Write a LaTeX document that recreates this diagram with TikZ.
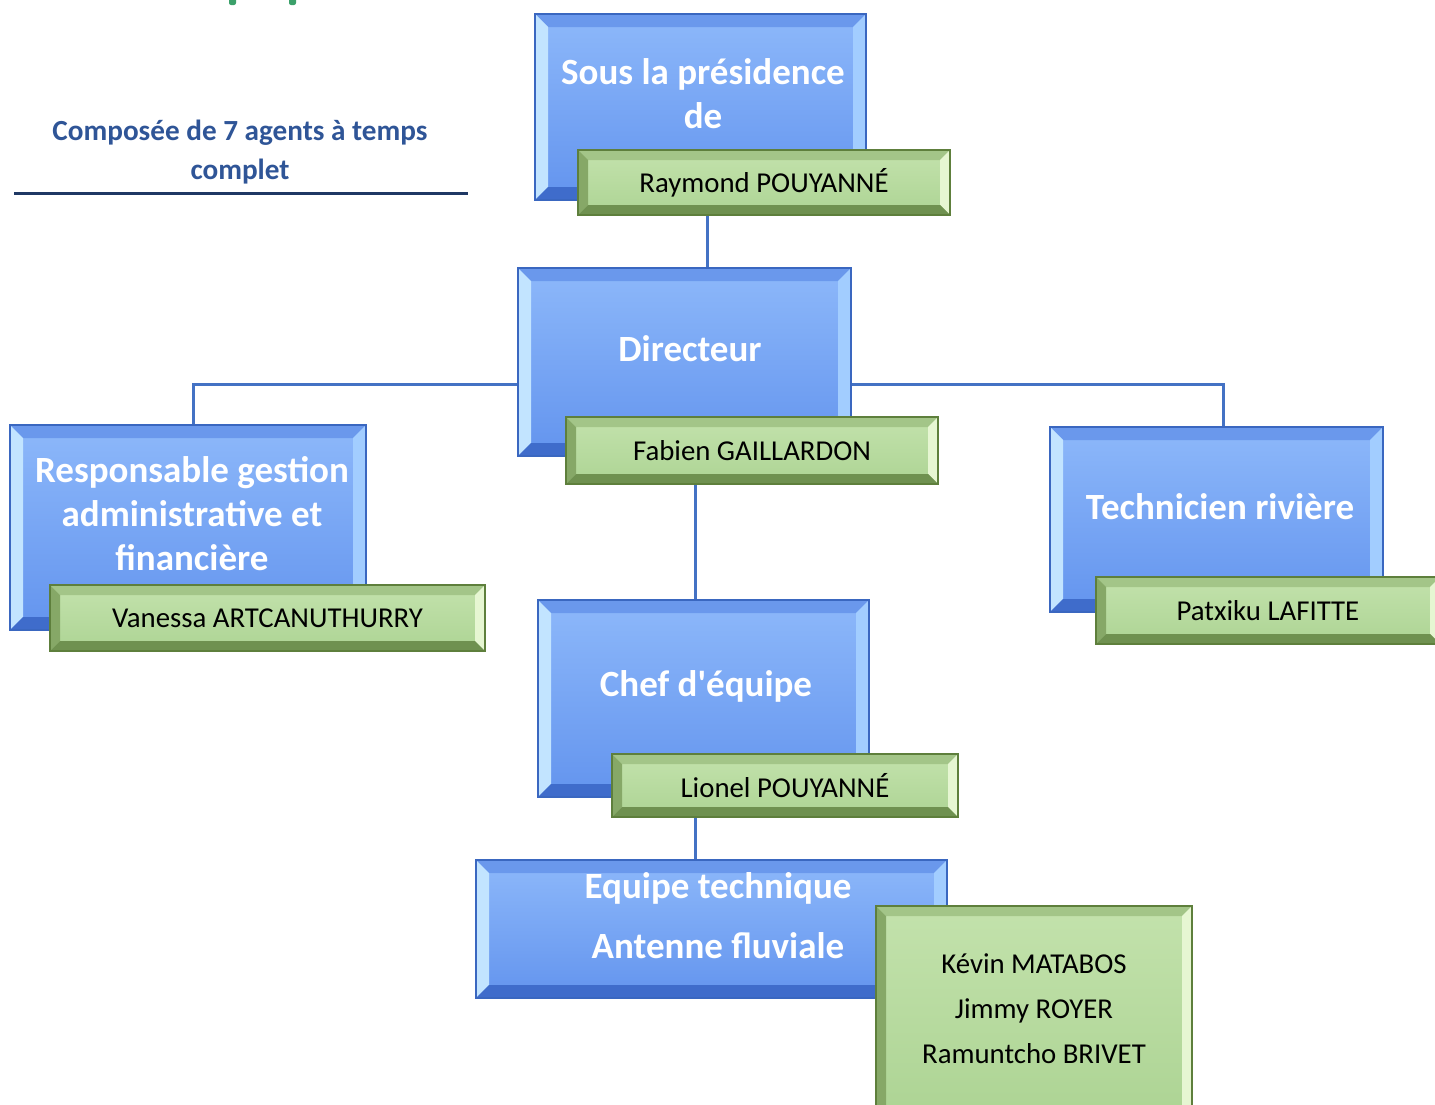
\documentclass[tikz,border=0pt]{standalone}
\usepackage{fontspec}
\setmainfont{Carlito}
\usepackage{tikz}
\usetikzlibrary{positioning}

\definecolor{blueedge}{HTML}{3A67C0}
\definecolor{bluetop}{HTML}{8DB8FA}
\definecolor{bluebot}{HTML}{6394EE}
\definecolor{bluetopbev}{HTML}{6A98EC}
\definecolor{blueleftbev}{HTML}{C2E4FF}
\definecolor{bluerightbev}{HTML}{A2CDFF}
\definecolor{bluebotbev}{HTML}{3F6CCB}
\definecolor{greenedge}{HTML}{5E7F3C}
\definecolor{greentop}{HTML}{C3E2AC}
\definecolor{greenbot}{HTML}{ADD494}
\definecolor{greentopbev}{HTML}{A3C588}
\definecolor{greenleftbev}{HTML}{86A867}
\definecolor{greenrightbev}{HTML}{E6F6D2}
\definecolor{greenbotbev}{HTML}{6F9150}
\definecolor{linkblue}{HTML}{4472C4}
\definecolor{headblue}{HTML}{2F5597}
\definecolor{rulenavy}{HTML}{1F3864}
\definecolor{fraggreen}{HTML}{3BA06A}

\begin{document}
\begin{tikzpicture}[x=0.5pt,y=-0.5pt,
    bevel/.style n args={5}{path picture={
        \fill[#2] (path picture bounding box.north west) -- (path picture bounding box.north east)
            -- ([shift={(-#1,-#1)}]path picture bounding box.north east) -- ([shift={(#1,-#1)}]path picture bounding box.north west) -- cycle;
        \fill[#3] (path picture bounding box.north west) -- ([shift={(#1,-#1)}]path picture bounding box.north west)
            -- ([shift={(#1,#1)}]path picture bounding box.south west) -- (path picture bounding box.south west) -- cycle;
        \fill[#4] (path picture bounding box.north east) -- ([shift={(-#1,-#1)}]path picture bounding box.north east)
            -- ([shift={(-#1,#1)}]path picture bounding box.south east) -- (path picture bounding box.south east) -- cycle;
        \fill[#5] (path picture bounding box.south west) -- ([shift={(#1,#1)}]path picture bounding box.south west)
            -- ([shift={(-#1,#1)}]path picture bounding box.south east) -- (path picture bounding box.south east) -- cycle;
    }},
    bluebox/.style={rectangle, draw=blueedge, line width=1pt, top color=bluetop, bottom color=bluebot, inner sep=0pt,
        bevel={6.5pt}{bluetopbev}{blueleftbev}{bluerightbev}{bluebotbev}},
    greenbox/.style={rectangle, draw=greenedge, line width=1pt, top color=greentop, bottom color=greenbot, inner sep=0pt,
        bevel={5pt}{greentopbev}{greenleftbev}{greenrightbev}{greenbotbev},
        font=\fontsize{14.4}{22.5}\selectfont, align=center},
    bluetext/.style={text=white, align=center, font=\fontsize{18.5}{22}\selectfont\bfseries},
    link/.style={draw=linkblue, line width=1.5pt}]

    \useasboundingbox (0,0) rectangle (1435,1104);

    % heading
    \fill[fraggreen, rounded corners=1pt] (229,-4) rectangle (236,5);
    \fill[fraggreen, rounded corners=1pt] (289,-4) rectangle (296,5);
    \node[text=headblue, align=center, font=\fontsize{14.6}{19.5}\selectfont\bfseries] (head) at (240,152.5)
        {Composée de 7 agents à temps\\complet};
    \draw[rulenavy, line width=1.5pt] (14,193) -- (468,193);

    % connectors
    \coordinate (c1) at (707,0);
    \coordinate (c2) at (695,0);
    \coordinate (jl) at (193,384);
    \coordinate (jr) at (1223,384);

    % Nodes
    \node[bluebox, minimum width=165.5pt, minimum height=93pt] (sous) at (700.5,107) {};
    \node[bluetext] (soustxt) at (703,94) {Sous la présidence\\de};
    \node[greenbox, minimum width=186pt, minimum height=32.5pt] (ray) at (764,182.5) {Raymond POUYANNÉ};

    \node[bluebox, minimum width=166.5pt, minimum height=94pt] (dir) at (684.5,362) {};
    \node[bluetext] (dirtxt) at (690,349) {Directeur};
    \node[greenbox, minimum width=186pt, minimum height=33.5pt] (fab) at (752,450.5) {Fabien GAILLARDON};

    \node[bluebox, minimum width=178pt, minimum height=102.5pt] (resp) at (188,527.5) {};
    \node[bluetext] (resptxt) at (192,513.5) {Responsable gestion\\administrative et\\financière};
    \node[greenbox, minimum width=217.5pt, minimum height=33pt] (van) at (267.5,618) {Vanessa ARTCANUTHURRY};

    \node[bluebox, minimum width=166.5pt, minimum height=92.5pt] (tech) at (1216.5,519.5) {};
    \node[bluetext] (techtxt) at (1220,507) {Technicien rivière};
    \node[greenbox, minimum width=172pt, minimum height=33.5pt] (pat) at (1268,610.5) {Patxiku LAFITTE};

    \node[bluebox, minimum width=165.5pt, minimum height=98.5pt] (chef) at (703.5,698.5) {};
    \node[bluetext] (cheftxt) at (706,686) {Chef d\textquotesingle équipe};
    \node[greenbox, minimum width=173pt, minimum height=31.5pt] (lio) at (785,785.5) {Lionel POUYANNÉ};

    \node[bluebox, minimum width=235.5pt, minimum height=69pt] (equ) at (711.5,929) {};
    \node[bluetext, font=\fontsize{18.5}{30}\selectfont\bfseries] (equtxt) at (718,916) {Equipe technique\\Antenne fluviale};
    \node[greenbox, minimum width=158pt, minimum height=104.5pt, text depth=2pt] (team) at (1034,1010.5)
        {Kévin MATABOS\\Jimmy ROYER\\Ramuntcho BRIVET};

    \path[link]
        (ray.south -| c1) edge (dir.north -| c1)
        (fab.south -| c2) edge (chef.north -| c2)
        (lio.south -| c2) edge (equ.north -| c2);
    \draw[link] (dir.west |- jl) -- (jl) -- (jl |- resp.north);
    \draw[link] (dir.east |- jr) -- (jr) -- (jr |- tech.north);

\end{tikzpicture}
\end{document}
